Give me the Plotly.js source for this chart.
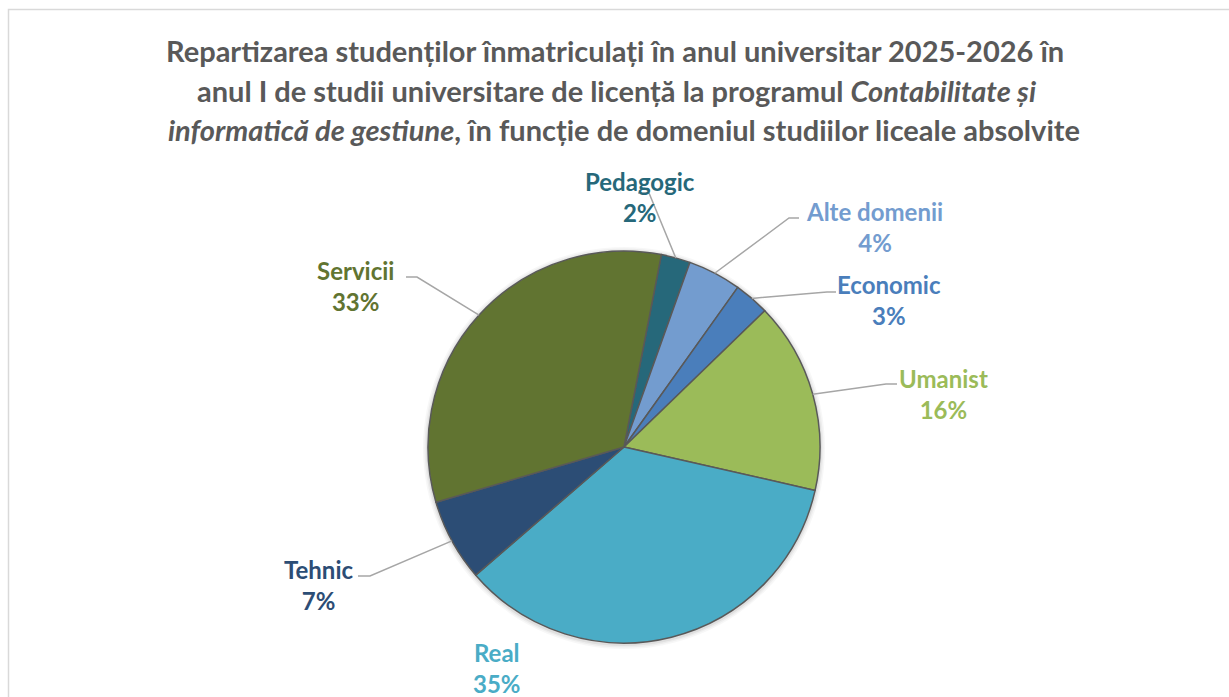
<!DOCTYPE html>
<html>
<head>
<meta charset="utf-8">
<script src="https://cdn.plot.ly/plotly-3.0.1.min.js"></script>
<style>
  html, body { margin: 0; padding: 0; background: #ffffff; }
  #chart { width: 1229px; height: 697px; }
</style>
</head>
<body>
<div id="chart"></div>
<script>
// --- DATA (shares, %) ---
const categories = ['Pedagogic', 'Alte domenii', 'Economic', 'Umanist', 'Real', 'Tehnic', 'Servicii'];
const shares = [2.4, 4.4, 2.9, 15.8, 35.1, 6.8, 32.6];
const sliceColors = ['#26687A', '#739CCF', '#4A7EBB', '#9BBB59', '#4AACC6', '#2C4D75', '#617431'];

const titleLines = [
    'Repartizarea studenților înmatriculați în anul universitar 2025-2026 în',
    'anul I de studii universitare de licență la programul <i>Contabilitate și</i>',
    '<i>informatică de gestiune</i>, în funcție de domeniul studiilor liceale absolvite'
];

// --- LAYOUT (pixels in the 1229x697 page) ---
const W = 1229, H = 697;
const PIE_CX = 624, PIE_CY = 447, PIE_R = 196;
const START_ANGLE = 11; // first slice starts 11 degrees clockwise from 12 o'clock
const FONT = 'Lato, "Open Sans", sans-serif';

// label block centres and leader lines (label end, elbow); Real has no leader
const labelPos = [[640, 197], [875, 227], [889, 300], [943, 394], [497, 668], [318, 585], [355, 286]];
const leaderEnds = [
    [[638, 193], [649, 193]],
    [[799, 218], [789, 218]],
    [[836, 292], [827, 292]],
    [[897, 384], [886, 384]],
    null,
    [[358, 576], [370, 576]],
    [[406, 277], [417, 277]]
];
const titleX = [615, 616, 624];
const titleY = [51, 90, 129];

const px = x => x / W;
const py = y => 1 - y / H;

function main() {
    const total = shares.reduce((a, b) => a + b, 0);

    const trace = {
        type: 'pie',
        labels: categories,
        values: shares,
        sort: false,
        direction: 'clockwise',
        rotation: START_ANGLE,
        textinfo: 'none',
        hoverinfo: 'label+percent',
        marker: { colors: sliceColors, line: { color: '#595959', width: 1.5 } },
        domain: {
            x: [px(PIE_CX - PIE_R), px(PIE_CX + PIE_R)],
            y: [py(PIE_CY + PIE_R), py(PIE_CY - PIE_R)]
        },
        showlegend: false
    };

    const annotations = titleLines.map((line, i) => ({
        text: '<b>' + line + '</b>',
        xref: 'paper', yref: 'paper',
        x: px(titleX[i]), y: py(titleY[i]),
        xanchor: 'center', yanchor: 'middle',
        showarrow: false,
        font: { family: FONT, size: 29, color: '#595959' }
    }));

    const shapes = [
        // outer chart frame (right and bottom edges fall outside the picture)
        {
            type: 'rect', xref: 'paper', yref: 'paper', layer: 'below',
            x0: px(8.5), x1: px(1240), y0: py(710), y1: py(9.5),
            line: { color: '#D9D9D9', width: 1.5 }, fillcolor: 'rgba(0,0,0,0)'
        }
    ];

    // soft shadow behind the pie
    [[5, 0.03], [3.5, 0.04], [2, 0.06]].forEach(([grow, alpha]) => {
        shapes.push({
            type: 'circle', xref: 'paper', yref: 'paper', layer: 'below',
            x0: px(PIE_CX - PIE_R - grow), x1: px(PIE_CX + PIE_R + grow),
            y0: py(PIE_CY + PIE_R + grow + 1), y1: py(PIE_CY - PIE_R - grow + 1),
            line: { width: 0 }, fillcolor: `rgba(0,0,0,${alpha})`
        });
    });

    let angle = START_ANGLE;
    categories.forEach((cat, i) => {
        const span = shares[i] / total * 360;
        const mid = (angle + span / 2) * Math.PI / 180;
        angle += span;
        const pct = Math.round(shares[i] / total * 100);

        annotations.push({
            text: `<b>${cat}</b><br><b>${pct}%</b>`,
            xref: 'paper', yref: 'paper',
            x: px(labelPos[i][0]), y: py(labelPos[i][1]),
            xanchor: 'center', yanchor: 'middle', align: 'center',
            showarrow: false,
            font: { family: FONT, size: 24, color: sliceColors[i] }
        });

        const lead = leaderEnds[i];
        if (lead) {
            const ex = PIE_CX + PIE_R * Math.sin(mid);
            const ey = PIE_CY - PIE_R * Math.cos(mid);
            shapes.push({
                type: 'path', xref: 'paper', yref: 'paper', layer: 'above',
                path: `M ${px(lead[0][0])},${py(lead[0][1])} L ${px(lead[1][0])},${py(lead[1][1])} L ${px(ex)},${py(ey)}`,
                line: { color: '#A6A6A6', width: 1.5 }
            });
        }
    });

    const layout = {
        width: W,
        height: H,
        margin: { l: 0, r: 0, t: 0, b: 0 },
        paper_bgcolor: '#ffffff',
        plot_bgcolor: '#ffffff',
        font: { family: FONT },
        annotations: annotations,
        shapes: shapes
    };

    Plotly.newPlot('chart', [trace], layout, { displayModeBar: false, staticPlot: true });
}

main();
</script>
</body>
</html>
